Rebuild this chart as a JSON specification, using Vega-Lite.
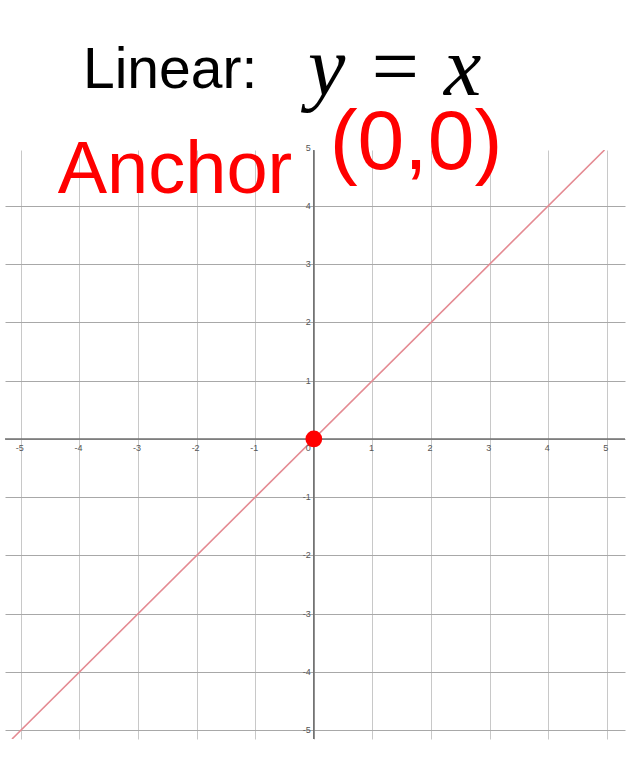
{
  "$schema": "https://vega.github.io/schema/vega-lite/v6.json",
  "width": 620,
  "height": 589,
  "autosize": "none",
  "padding": {"left": 5, "top": 150, "right": 1, "bottom": 35},
  "background": "white",
  "config": {
    "view": {"stroke": null},
    "axis": {"grid": true, "gridWidth": 1, "labels": false, "ticks": false, "domain": false, "tickCount": 11, "titleOpacity": 0},
    "axisX": {"gridColor": "#c8c8c8"},
    "axisY": {"gridColor": "#a8a8a8"}
  },
  "datasets": {
    "ticks": [
      {"t": -5, "label": "-5"}, {"t": -4, "label": "-4"}, {"t": -3, "label": "-3"},
      {"t": -2, "label": "-2"}, {"t": -1, "label": "-1"}, {"t": 1, "label": "1"},
      {"t": 2, "label": "2"}, {"t": 3, "label": "3"}, {"t": 4, "label": "4"}, {"t": 5, "label": "5"}
    ],
    "line": [{"x": -5.15, "y": -5.15}, {"x": 4.96, "y": 4.96}],
    "origin": [{"x": 0, "y": 0}]
  },
  "layer": [
    {
      "data": {"name": "line"},
      "mark": {"type": "line", "color": "#e48a92", "strokeWidth": 1.6, "clip": true},
      "encoding": {
        "x": {
          "field": "x", "type": "quantitative",
          "scale": {"domain": [-5.27, 5.31], "nice": false, "zero": false}
        },
        "y": {
          "field": "y", "type": "quantitative",
          "scale": {"domain": [-5.15, 4.96], "nice": false, "zero": false}
        }
      }
    },
    {
      "data": {"name": "origin"},
      "mark": {"type": "rule", "color": "#707070", "strokeWidth": 1.6},
      "encoding": {"x": {"field": "x", "type": "quantitative"}}
    },
    {
      "data": {"name": "origin"},
      "mark": {"type": "rule", "color": "#707070", "strokeWidth": 1.6},
      "encoding": {"y": {"field": "y", "type": "quantitative"}}
    },
    {
      "data": {"name": "ticks"},
      "mark": {"type": "text", "fontSize": 9, "color": "#555555", "font": "Liberation Sans", "align": "center", "baseline": "top", "dy": 5, "dx": -1},
      "encoding": {
        "x": {"field": "t", "type": "quantitative"},
        "y": {"datum": 0, "type": "quantitative"},
        "text": {"field": "label"}
      }
    },
    {
      "data": {"name": "ticks"},
      "mark": {"type": "text", "fontSize": 9, "color": "#555555", "font": "Liberation Sans", "align": "right", "baseline": "middle", "dx": -3},
      "encoding": {
        "x": {"datum": 0, "type": "quantitative"},
        "y": {"field": "t", "type": "quantitative"},
        "text": {"field": "label"}
      }
    },
    {
      "data": {"name": "origin"},
      "mark": {"type": "text", "fontSize": 9, "color": "#555555", "font": "Liberation Sans", "align": "right", "baseline": "top", "dx": -3, "dy": 5},
      "encoding": {
        "x": {"field": "x", "type": "quantitative"},
        "y": {"field": "y", "type": "quantitative"},
        "text": {"value": "0"}
      }
    },
    {
      "data": {"name": "origin"},
      "mark": {"type": "point", "filled": true, "color": "#ff0000", "opacity": 1, "size": 280, "shape": "circle"},
      "encoding": {
        "x": {"field": "x", "type": "quantitative"},
        "y": {"field": "y", "type": "quantitative"}
      }
    },
    {
      "data": {"values": [{"x": -3.94, "y": 6.02, "label": "Linear:"}]},
      "mark": {"type": "text", "font": "Liberation Sans", "fontSize": 57, "color": "#000000", "align": "left", "baseline": "alphabetic"},
      "encoding": {
        "x": {"field": "x", "type": "quantitative"},
        "y": {"field": "y", "type": "quantitative"},
        "text": {"field": "label"}
      }
    },
    {
      "data": {"values": [{"x": -0.1, "y": 5.9, "label": "y = x"}]},
      "mark": {"type": "text", "font": "Liberation Serif", "fontStyle": "italic", "fontSize": 84, "color": "#000000", "align": "left", "baseline": "alphabetic"},
      "encoding": {
        "x": {"field": "x", "type": "quantitative"},
        "y": {"field": "y", "type": "quantitative"},
        "text": {"field": "label"}
      }
    },
    {
      "data": {"values": [{"x": -4.37, "y": 4.22, "label": "Anchor"}]},
      "mark": {"type": "text", "font": "Liberation Sans", "fontSize": 74, "color": "#ff0000", "align": "left", "baseline": "alphabetic"},
      "encoding": {
        "x": {"field": "x", "type": "quantitative"},
        "y": {"field": "y", "type": "quantitative"},
        "text": {"field": "label"}
      }
    },
    {
      "data": {"values": [{"x": 0.27, "y": 4.64, "label": "(0,0)"}]},
      "mark": {"type": "text", "font": "Liberation Sans", "fontSize": 84, "color": "#ff0000", "align": "left", "baseline": "alphabetic"},
      "encoding": {
        "x": {"field": "x", "type": "quantitative"},
        "y": {"field": "y", "type": "quantitative"},
        "text": {"field": "label"}
      }
    }
  ]
}
